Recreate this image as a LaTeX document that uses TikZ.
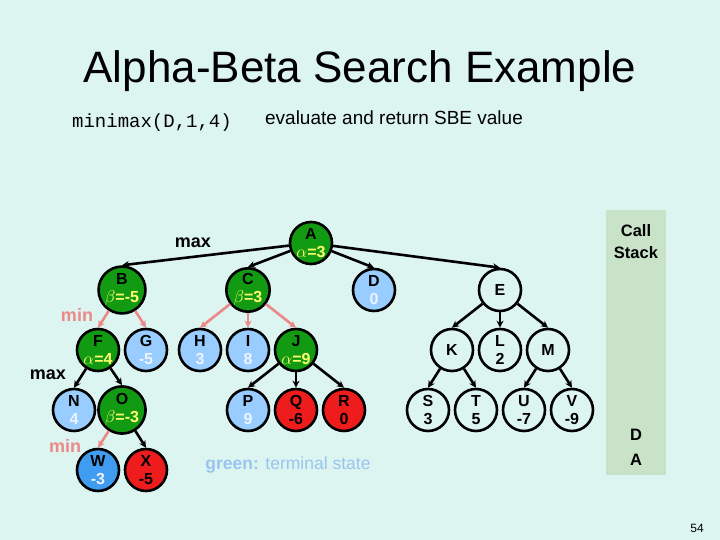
\documentclass[tikz,border=0pt]{standalone}
\usepackage{fontspec}
\setmainfont{Liberation Sans}
\setmonofont{Liberation Mono}
\usetikzlibrary{arrows.meta,trees}

\definecolor{bgcyan}{RGB}{221,245,241}
\definecolor{stackgreen}{RGB}{201,227,201}
\definecolor{nodegreen}{RGB}{18,154,18}
\definecolor{termblue}{RGB}{153,204,255}
\definecolor{curblue}{RGB}{63,156,240}
\definecolor{cutred}{RGB}{238,28,28}
\definecolor{edgepink}{RGB}{236,136,136}
\definecolor{valyellow}{RGB}{255,255,110}
\definecolor{valwhite}{RGB}{238,244,255}
\definecolor{legendblue}{RGB}{153,196,238}

\newcommand{\yel}[1]{\textcolor{valyellow}{#1}}
\newcommand{\wht}[1]{\textcolor{valwhite}{#1}}

\begin{document}
\begin{tikzpicture}[x=1pt,y=1pt,
  tnode/.style={circle,draw=black,text=black,line width=2.6pt,minimum size=42pt,inner sep=0pt,align=center,
                font=\bfseries\fontsize{16}{18}\selectfont},
  greennode/.style={tnode,fill=nodegreen},
  termnode/.style={tnode,fill=termblue},
  curnode/.style={tnode,fill=curblue},
  cutnode/.style={tnode,fill=cutred},
  opennode/.style={tnode},
  lvl/.style={font=\bfseries\fontsize{18}{20}\selectfont},
  stk/.style={font=\bfseries\fontsize{16.5}{20}\selectfont},
  level/.style={level distance=60pt,sibling distance=48pt},
  level 1/.style={level distance=47pt,sibling distance=126pt},
  child anchor=north,
  edge from parent/.style={draw=black,line width=2.6pt,-{Stealth[length=7pt,width=7pt]}},
  pinkedge/.style={draw=edgepink}]
\fill[bgcyan] (0,0) rectangle (720,-540);
\useasboundingbox (0,0) rectangle (720,-540);

\node (title) at (360,-83) [anchor=base,font=\fontsize{44}{52}\selectfont] {Alpha-Beta Search Example};
\node (call) at (152,-123) [font=\ttfamily\fontsize{19}{22}\selectfont] {minimax(D,1,4)};
\node (eval) at (394,-118) [font=\fontsize{19}{22}\selectfont] {evaluate and return SBE value};

% call stack
\fill[stackgreen] (606,-210) rectangle (666,-475);
\node (stacklbl) at (636,-242) [stk,align=center,font=\bfseries\fontsize{16.5}{22}\selectfont] {Call\\Stack};
\node (sD) at (636,-435) [stk] {D};
\node (sA) at (636,-460) [stk] {A};

% levels
\node (lmax1) at (193,-243) [lvl] {max};
\node (lmin1) at (77,-315) [lvl,text=edgepink] {min};
\node (lmax2) at (48,-375) [lvl] {max};
\node (lmin2) at (65,-446) [lvl,text=edgepink] {min};

% game tree
\node (A) [greennode] at (311,-243) {A\\\yel{$\alpha$=3}}
  child {node (B) [greennode] {B\\\yel{$\beta$=-5}}
    child {node (F) [greennode] {F\\\yel{$\alpha$=4}}
      child {node (N) [termnode] {N\\\wht{4}}}
      child {node (O) [greennode] {O\\\yel{$\beta$=-3}}
        child {node (W) [curnode] {W\\\wht{-3}} edge from parent[pinkedge]}
        child {node (X) [cutnode] {X\\-5}}}
      edge from parent[pinkedge]}
    child {node (G) [termnode] {G\\\wht{-5}} edge from parent[pinkedge]}}
  child {node (C) [greennode] {C\\\yel{$\beta$=3}}
    child {node (H) [termnode] {H\\\wht{3}} edge from parent[pinkedge]}
    child {node (I) [termnode] {I\\\wht{8}} edge from parent[pinkedge]}
    child {node (J) [greennode] {J\\\yel{$\alpha$=9}}
      child {node (P) [termnode] {P\\\wht{9}}}
      child {node (Q) [cutnode] {Q\\-6}}
      child {node (R) [cutnode] {R\\0}}
      edge from parent[pinkedge]}}
  child {node (D) [termnode] {D\\\wht{0}}}
  child {node (E) [opennode] {E}
    child {node (K) [opennode] {K}
      child {node (S) [opennode] {S\\3}}
      child {node (T) [opennode] {T\\5}}}
    child {node (L) [opennode] {L\\2}}
    child {node (M) [opennode] {M}
      child {node (U) [opennode] {U\\-7}}
      child {node (V) [opennode] {V\\-9}}}};

\node (legend) at (288,-465) [font=\fontsize{17.5}{20}\selectfont,text=legendblue] {\textbf{green:} terminal state};
\node (pg) at (697,-528) [font=\fontsize{12}{14}\selectfont] {54};
\end{tikzpicture}
\end{document}
